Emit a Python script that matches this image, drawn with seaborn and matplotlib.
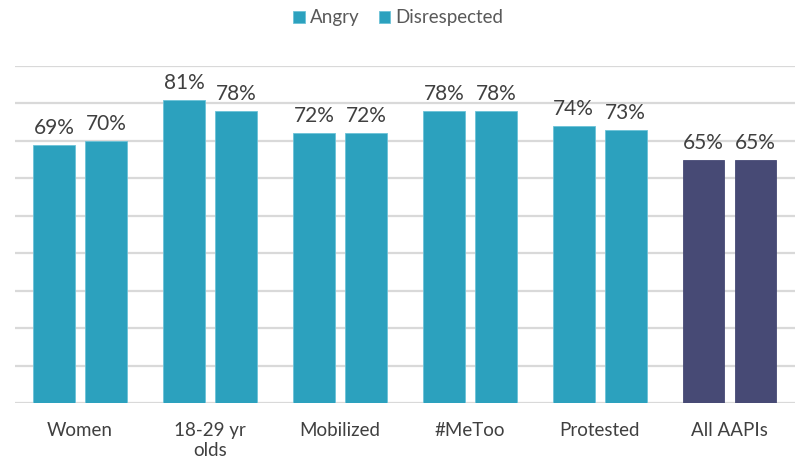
import pandas as pd
import seaborn as sns
import matplotlib.pyplot as plt

# --- dados ---
categorias = ['Women', '18-29 yr\nolds', 'Mobilized', '#MeToo', 'Protested', 'All AAPIs']
series = ['Angry', 'Disrespected']
angry = [69, 81, 72, 78, 74, 65]
disrespected = [70, 78, 72, 78, 73, 65]

TEAL = '#2CA1BE'
NAVY = '#474A75'
GRID = '#D9D9D9'
TEXTO = '#595959'

df = pd.DataFrame({
    'Grupo': categorias * 2,
    'Serie': [series[0]] * len(categorias) + [series[1]] * len(categorias),
    'Valor': [v / 100 for v in angry + disrespected],
})

sns.set_style('white')
plt.rcParams['font.family'] = ['Lato', 'DejaVu Sans']

fig = plt.figure(figsize=(7.97, 4.67), dpi=100)
ax = fig.add_axes([0.019, 0.137, 0.978, 0.722])

sns.barplot(data=df, x='Grupo', y='Valor', hue='Serie', order=categorias, hue_order=series,
            palette={s: TEAL for s in series}, width=0.8, gap=0.2, saturation=1,
            edgecolor='#6CC3D8', linewidth=0.6, ax=ax)

# último grupo (All AAPIs) em azul escuro
for cont in ax.containers:
    cont[-1].set_facecolor(NAVY)
    cont[-1].set_edgecolor(NAVY)
    ax.bar_label(cont, labels=[f'{v * 100:.0f}%' for v in cont.datavalues],
                 padding=5, fontsize=15, color='#404040')

ax.set_ylim(0, 0.9)
ax.set_yticks([i / 10 for i in range(10)])
ax.set_yticklabels([])
ax.tick_params(axis='y', length=0)
ax.tick_params(axis='x', length=0, pad=14, labelsize=13.5, labelcolor='#404040')
ax.set_xlim(-0.5, len(categorias) - 0.5)
ax.grid(axis='y', color=GRID, linewidth=1.6)
ax.set_axisbelow(True)
for s in ax.spines.values():
    s.set_visible(False)
ax.set_xlabel('')
ax.set_ylabel('')

ax.legend(loc='upper center', bbox_to_anchor=(0.5, 1.0), bbox_transform=fig.transFigure,
          borderaxespad=0.1, ncol=2, frameon=False, handlelength=0.6, handleheight=0.6,
          handletextpad=0.3, columnspacing=1.0, fontsize=13.5, labelcolor=TEXTO)

plt.savefig('out.png', dpi=100)
